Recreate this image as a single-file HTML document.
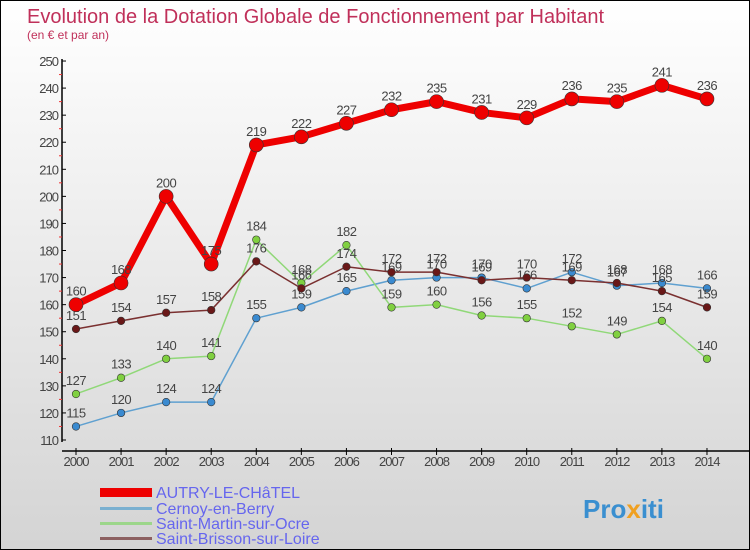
<!DOCTYPE html>
<html><head><meta charset="utf-8"><style>
body{margin:0}
#c{width:748px;height:548px;border:1px solid #000;background:linear-gradient(#fff,#d4d4d4);position:relative;overflow:hidden;font-family:"Liberation Sans",sans-serif}
</style></head><body>
<div id="c">
<svg id="s" width="748" height="548" style="position:absolute;left:0;top:0">
<text x="26" y="22" font-size="20" fill="#c0305a">Evolution de la Dotation Globale de Fonctionnement par Habitant</text>
<text x="26" y="38" font-size="12" fill="#c0305a">(en € et par an)</text>
<g id="axes"></g><g id="series"></g>
<g font-size="16" fill="#6666ee">
<rect x="99" y="487" width="52" height="9" fill="#e00"/>
<text x="155" y="497">AUTRY-LE-CHâTEL</text>
<rect x="99" y="506" width="52" height="3" fill="#7ab0d0"/>
<text x="155" y="513">Cernoy-en-Berry</text>
<rect x="99" y="521" width="52" height="3" fill="#9cd68a"/>
<text x="155" y="528">Saint-Martin-sur-Ocre</text>
<rect x="99" y="536" width="52" height="3" fill="#8c6060"/>
<text x="155" y="543">Saint-Brisson-sur-Loire</text>
</g>
<text x="582" y="517" font-size="26" font-weight="bold" fill="#3a8fd0">Pro<tspan fill="#f0a020">x</tspan>iti</text>
</svg>
</div>
<script>
const years=[2000,2001,2002,2003,2004,2005,2006,2007,2008,2009,2010,2011,2012,2013,2014];
const yTicks=[110,120,130,140,150,160,170,180,190,200,210,220,230,240,250];
const autry=[160,168,200,175,219,222,227,232,235,231,229,236,235,241,236];
const cernoy=[115,120,124,124,155,159,165,169,170,170,166,172,167,168,166];
const martin=[127,133,140,141,184,168,182,159,160,156,155,152,149,154,140];
const brisson=[151,154,157,158,176,166,174,172,172,169,170,169,168,165,159];
const NS='http://www.w3.org/2000/svg';
function X(i){return 75+i*45.07;}
function Y(v){return 439-(v-110)*2.707;}
function mk(t,a,p){const e=document.createElementNS(NS,t);for(const k in a)e.setAttribute(k,a[k]);p.appendChild(e);return e;}
const ax=document.getElementById('axes');
const yl=mk('line',{x1:61,y1:58,x2:61,y2:441,stroke:'#000','stroke-width':1.5},ax);


const xl=mk('line',{x1:61,y1:450,x2:748,y2:450,stroke:'#000','stroke-width':1.5},ax);


yTicks.forEach(v=>{
 mk('line',{x1:61,y1:Y(v),x2:65,y2:Y(v),stroke:'#000'},ax);
 if(v<250)mk('line',{x1:58,y1:Y(v+5),x2:61,y2:Y(v+5),stroke:'#e33'},ax);
 const t=mk('text',{x:57,y:Y(v)+5,'font-size':13,'text-anchor':'end',fill:'#444','letter-spacing':'-1'},ax);
 t.textContent=v;
 
 
});
years.forEach((yr,i)=>{
 mk('line',{x1:X(i),y1:447,x2:X(i),y2:454,stroke:'#000'},ax);
 const t=mk('text',{x:X(i),y:465,'font-size':13,'text-anchor':'middle',fill:'#444','letter-spacing':'-1'},ax);
 t.textContent=yr;
 
 
});
const sg=document.getElementById('series');
function draw(vals,name,col,dot,w,r,fs){
 const g=mk('g',{},sg);
 
 
 const pl=mk('polyline',{points:vals.map((v,i)=>X(i)+','+Y(v)).join(' '),fill:'none',stroke:col,'stroke-width':w,'stroke-linejoin':'round'},g);
 
 
 vals.forEach((v,i)=>{
  const c=mk('circle',{cx:X(i),cy:Y(v),r:r,fill:dot,stroke:'#333','stroke-width':0.6},g);
  
  
  const t=mk('text',{x:X(i),y:Y(v)-9,'font-size':fs,'text-anchor':'middle',fill:'#444','letter-spacing':'-0.5'},g);
  t.textContent=v;
  
  
 });
}
draw(cernoy,'cernoy-series','#5fa0d0','#3a8ad0',1.5,3.8,13);
draw(martin,'saint-martin-series','#90d878','#80d040',1.5,3.8,13);
draw(brisson,'saint-brisson-series','#7a3030','#6a1818',1.5,3.8,13);
draw(autry,'autry-series','#e00','#e00',7,7,13);
</script>
</body></html>
